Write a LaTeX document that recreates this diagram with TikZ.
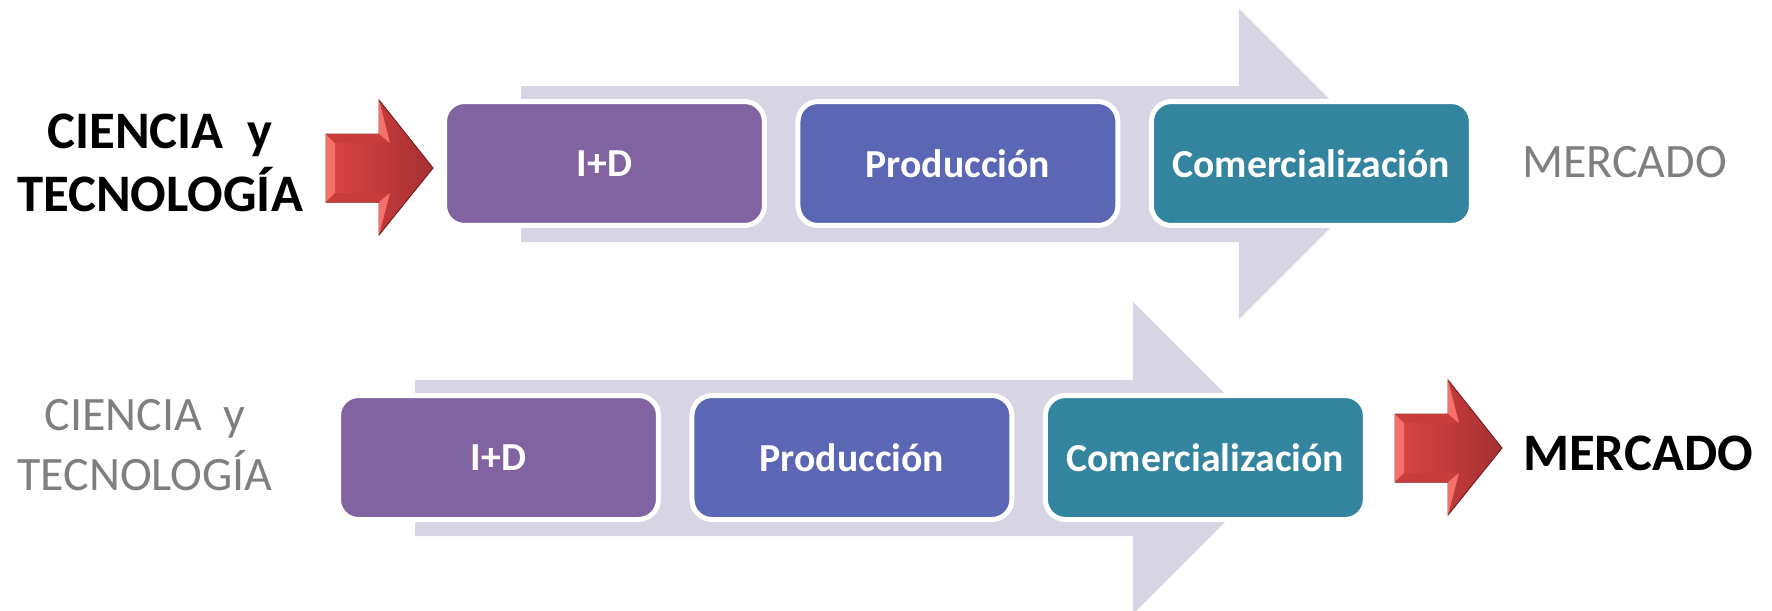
\documentclass[tikz,border=0pt]{standalone}
\usepackage{fontspec}
\setmainfont{Carlito}

\definecolor{bandgray}{HTML}{D7D4E3}
\definecolor{idpurple}{HTML}{8063A0}
\definecolor{prodblue}{HTML}{5B67B4}
\definecolor{comteal}{HTML}{33849F}
\definecolor{softgray}{HTML}{7F7F7F}
\definecolor{redleft}{HTML}{DC4545}
\definecolor{redright}{HTML}{A53030}
\definecolor{redlight}{HTML}{F8706A}
\definecolor{redband}{HTML}{C93C3C}
\definecolor{redline}{HTML}{7E2222}

\tikzset{
  phase/.style={rectangle, draw=white, line width=0.1cm, rounded corners=0.4cm, outer sep=0pt,
    minimum width=6.4cm, minimum height=2.48cm, text=white, font=\fontsize{22.6}{27}\selectfont\bfseries},
  strong/.style={text=black, align=center, font=\fontsize{30}{36}\selectfont\bfseries},
  faded/.style={text=softgray, align=center, font=\fontsize{27.3}{34}\selectfont}
}

\newcommand{\redarrow}[2]{
  \begin{scope}[shift={(#1,#2)}]
    \fill[left color=redleft, right color=redright, draw=redline, line width=0.02cm]
      (0,34) -- (53,34) -- (53,0) -- (107,68) -- (53,135) -- (53,102) -- (0,102) -- cycle;
    \fill[redlight] (0,34) -- (9,43) -- (9,93) -- (0,102) -- cycle;
    \fill[redband] (0,34) -- (53,34) -- (64,43) -- (9,43) -- cycle;
    \fill[redband] (0,102) -- (53,102) -- (64,93) -- (9,93) -- cycle;
    \fill[redlight] (53,0) -- (64,43) -- (53,34) -- cycle;
    \fill[redlight] (53,135) -- (64,93) -- (53,102) -- cycle;
  \end{scope}
}

\begin{document}
\begin{tikzpicture}[x=0.02cm, y=-0.02cm, node distance=7.07cm]

    \clip (0,0) rectangle (1772,610);

    % the two wide arrows behind the boxes
    \fill[bandgray] (521,86) -- (1239,86) -- (1239,9) -- (1394,164) -- (1239,319) -- (1239,242) -- (521,242) -- cycle;
    \fill[bandgray] (415,380) -- (1133,380) -- (1133,302) -- (1289,458) -- (1133,614) -- (1133,536) -- (415,536) -- cycle;

    \node(id-top)[phase, fill=idpurple] at (604.5,163.5) {I+D};
    \node(prod-top)[phase, fill=prodblue, right of=id-top] {Producción};
    \node(com-top)[phase, fill=comteal, right of=prod-top] {Comercialización};

    \node(id-low)[phase, fill=idpurple] at (498.5,457.5) {I+D};
    \node(prod-low)[phase, fill=prodblue, right of=id-low] {Producción};
    \node(com-low)[phase, fill=comteal, right of=prod-low] {Comercialización};

    \node(cyt-top)[strong] at (160,163) {CIENCIA\ \ y\\TECNOLOGÍA};
    \node(mercado-top)[faded] at (1624.5,162) {MERCADO};
    \node(cyt-low)[faded] at (145,445) {CIENCIA\ \ y\\TECNOLOGÍA};
    \node(mercado-low)[strong] at (1638,453) {MERCADO};

    \redarrow{326}{100}
    \redarrow{1395}{380}
\end{tikzpicture}
\end{document}
